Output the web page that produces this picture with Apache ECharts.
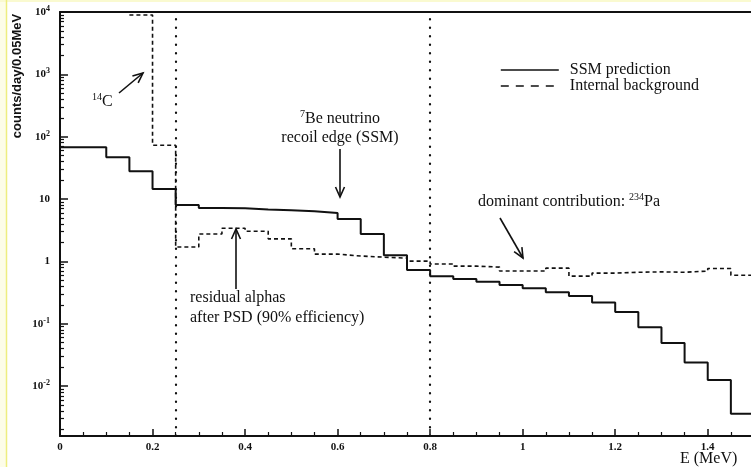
<!DOCTYPE html>
<html><head><meta charset="utf-8">
<script src="https://cdn.jsdelivr.net/npm/echarts@6/dist/echarts.min.js"></script>
<style>html,body{margin:0;padding:0;background:#fff}#c{width:751px;height:467px}</style>
</head><body><div id="c"></div>
<script>
// Histogram bins (low edges, MeV), bin width 0.05 MeV
const binEdges = [0,0.05,0.1,0.15,0.2,0.25,0.3,0.35,0.4,0.45,0.5,0.55,0.6,0.65,0.7,0.75,0.8,0.85,0.9,0.95,1.0,1.05,1.1,1.15,1.2,1.25,1.3,1.35,1.4,1.45];
const binWidth = 0.05;
// SSM prediction (counts/day/0.05MeV)
const ssmPrediction = [68,68,47,28,14.5,8.0,7.2,7.1,6.8,6.6,6.4,6.0,4.8,2.75,1.26,0.73,0.58,0.52,0.47,0.42,0.37,0.32,0.28,0.22,0.155,0.088,0.049,0.024,0.0125,0.0036];
// Internal background (counts/day/0.05MeV)
const internalBackground = [null,null,null,8950,73,1.7,2.75,3.4,3.05,2.3,1.6,1.31,1.22,1.17,1.13,1.01,0.91,0.84,0.81,0.70,0.70,0.78,0.58,0.65,0.67,0.68,0.67,0.70,0.77,0.60];
// Vertical dotted marker energies
const markerEnergies = [0.25, 0.8];
// Axis ticks
const xTickLabels = [0,0.2,0.4,0.6,0.8,1,1.2,1.4];
const yTickValues = [0.01,0.1,1,10,100,1000,10000];
const seriesNames = ['SSM prediction','Internal background'];

const xMin = 0, xMax = 1.5, yMin = Math.pow(10,-2.8), yMax = 10000;
const xMinorTicks = [];
for (let i = 0; i <= 30; i++) { const v = +(i*0.05).toFixed(2); if (Math.abs(v/0.2 - Math.round(v/0.2)) > 1e-6) xMinorTicks.push(v); }
const yMinorTicks = [];
for (let k = -3; k <= 3; k++) for (let m = 2; m <= 9; m++) { const v = m*Math.pow(10,k); if (v > yMin && v < yMax) yMinorTicks.push(v); }

function stepData(vals){
  const d = binEdges.map((e,i)=>[e, vals[i]]);
  d.push([+(binEdges[binEdges.length-1]+binWidth).toFixed(2), vals[vals.length-1]]);
  return d;
}
const INK = '#111';
const SERIF = '"Liberation Serif","DejaVu Serif",serif';

function arrow(x1,y1,x2,y2){
  const a = Math.atan2(y2-y1, x2-x1), L = 11, h = 0.42;
  const p1 = [x2 - L*Math.cos(a-h), y2 - L*Math.sin(a-h)];
  const p2 = [x2 - L*Math.cos(a+h), y2 - L*Math.sin(a+h)];
  return [
    {type:'line', shape:{x1,y1,x2,y2}, style:{stroke:INK, lineWidth:1.6}},
    {type:'polyline', shape:{points:[p1,[x2,y2],p2]}, style:{stroke:INK, lineWidth:1.6, fill:null}}
  ];
}
const supRich = {
  n:{fontFamily:SERIF, fontSize:16, color:INK, lineHeight:19},
  s:{fontFamily:SERIF, fontSize:10, color:INK, lineHeight:10, verticalAlign:'top'}
};
function txt(x,y,t,align){
  return {type:'text', x, y, style:{text:t, rich:supRich, font:'16px '+SERIF, fill:INK, align:align||'left', verticalAlign:'middle'}};
}

const chart = echarts.init(document.getElementById('c'), null, {renderer:'canvas'});
chart.setOption({
  backgroundColor:'#fff',
  animation:false,
  grid:{left:60, top:12, width:694, height:424, containLabel:false, outerBoundsMode:'none'},
  legend:{
    left:495, top:57, orient:'vertical', itemWidth:58, itemHeight:14, itemGap:0,
    itemStyle:{color:'rgba(0,0,0,0)', borderWidth:0, opacity:0},
    textStyle:{fontFamily:SERIF, fontSize:16, lineHeight:16, color:INK, padding:[0,0,0,6]},
    data:[{name:seriesNames[0], lineStyle:{width:1.6}}, {name:seriesNames[1], lineStyle:{type:[8,7], width:1.6}}]
  },
  xAxis:[
    {type:'value', min:xMin, max:xMax, position:'bottom',
     axisLine:{lineStyle:{color:INK, width:2}},
     axisTick:{inside:true, length:7, customValues:xTickLabels, lineStyle:{color:INK, width:1.5}},
     axisLabel:{customValues:xTickLabels, formatter:v=>String(v), color:INK, fontFamily:SERIF, fontWeight:'bold', fontSize:11, margin:6},
     splitLine:{show:false}},
    {type:'value', min:xMin, max:xMax, position:'bottom',
     axisLine:{show:false},
     axisTick:{inside:true, length:4, customValues:xMinorTicks, lineStyle:{color:INK, width:1.2}},
     axisLabel:{show:false}, splitLine:{show:false}},
    {type:'value', min:xMin, max:xMax, position:'top',
     axisLine:{lineStyle:{color:INK, width:2}}, axisTick:{show:false}, axisLabel:{show:false}, splitLine:{show:false}}
  ],
  yAxis:[
    {type:'log', logBase:10, min:yMin, max:yMax, position:'left',
     axisLine:{lineStyle:{color:INK, width:2}},
     axisTick:{inside:true, length:8, customValues:yTickValues, lineStyle:{color:INK, width:1.5}},
     axisLabel:{customValues:yTickValues, margin:10, color:INK,
       formatter:v=>{const k=Math.round(Math.log10(v)); if(k===0) return '{b|1}'; if(k===1) return '{b|10}'; return '{b|10}{s|'+k+'}';},
       rich:{b:{fontFamily:SERIF, fontWeight:'bold', fontSize:11, color:INK, lineHeight:14},
             s:{fontFamily:SERIF, fontWeight:'bold', fontSize:8, color:INK, lineHeight:8, verticalAlign:'top'}}},
     splitLine:{show:false}},
    {type:'log', logBase:10, min:yMin, max:yMax, position:'left',
     axisLine:{show:false},
     axisTick:{inside:true, length:4, customValues:yMinorTicks, lineStyle:{color:INK, width:1.2}},
     axisLabel:{show:false}, splitLine:{show:false}}
  ],
  series:[
    {name:seriesNames[0], type:'line', step:'end', xAxisIndex:0, yAxisIndex:0, symbol:'none',
     data:stepData(ssmPrediction), lineStyle:{color:INK, width:2}, itemStyle:{color:INK},
     markLine:{silent:true, symbol:'none', label:{show:false},
       lineStyle:{color:INK, width:2.2, type:[0.5,8], cap:'round'},
       data:markerEnergies.map(e=>({xAxis:e}))}},
    {name:seriesNames[1], type:'line', step:'end', xAxisIndex:0, yAxisIndex:0, symbol:'none',
     data:stepData(internalBackground), lineStyle:{color:INK, width:1.6, type:[4,3]}, itemStyle:{color:INK}}
  ],
  graphic:[
    {type:'rect', shape:{x:0,y:0,width:6,height:467}, style:{fill:'#fdfde8'}, silent:true},
    {type:'rect', shape:{x:0,y:0,width:751,height:2}, style:{fill:'#fafad0'}, silent:true},
    {type:'line', shape:{x1:6.5,y1:0,x2:6.5,y2:467}, style:{stroke:'#eeee80', lineWidth:1.5}, silent:true},
    {type:'text', x:17, y:76, rotation:Math.PI/2,
     style:{text:'counts/day/0.05MeV', font:'bold 13px "Liberation Sans",Arial,sans-serif', fill:INK, align:'center', verticalAlign:'middle'}},
    {type:'text', x:680, y:459, style:{text:'E (MeV)', font:'16px '+SERIF, fill:INK, align:'left', verticalAlign:'middle'}},
    txt(92,102,'{s|14}{n|C}'),
    ...arrow(119,93,143,73),
    txt(340,119,'{s|7}{n|Be neutrino}','center'),
    txt(340,138,'{n|recoil edge (SSM)}','center'),
    ...arrow(340,149,340,197),
    txt(478,202,'{n|dominant contribution: }{s|234}{n|Pa}'),
    ...arrow(500,218,523,258),
    txt(190,298,'{n|residual alphas}'),
    txt(190,318,'{n|after PSD (90% efficiency)}'),
    ...arrow(236,289,236,229)
  ]
});
</script></body></html>
